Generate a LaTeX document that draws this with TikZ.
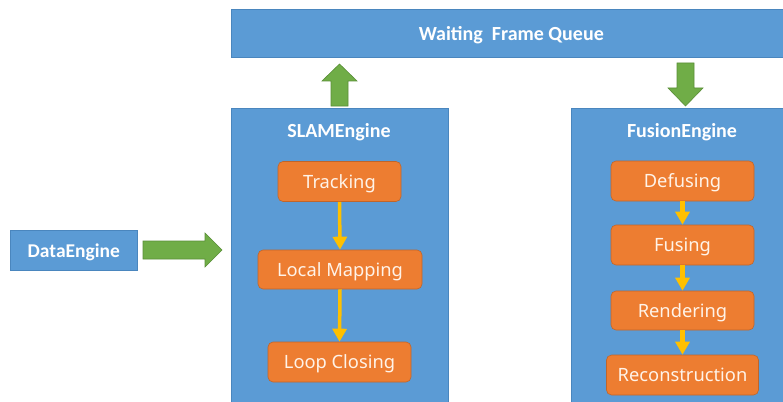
\documentclass[tikz,border=0pt]{standalone}
\usepackage{fontspec}
\setmainfont{Carlito}
\newfontfamily\labelfont{Noto Sans}
\usetikzlibrary{arrows.meta}
\definecolor{boxblue}{HTML}{5B9BD5}
\definecolor{boxblueline}{HTML}{4A86BE}
\definecolor{steporange}{HTML}{ED7D31}
\definecolor{steporangeline}{HTML}{C0652A}
\definecolor{bigarrow}{HTML}{70AD47}
\definecolor{bigarrowline}{HTML}{5A8F38}
\definecolor{flowyellow}{HTML}{FFC000}
\definecolor{labelwhite}{HTML}{FFF3E8}
\tikzset{
  bluebox/.style={draw=boxblueline, line width=0.6pt, fill=boxblue, rectangle, inner sep=0pt},
  titletext/.style={text=white, font=\fontsize{20}{24}\selectfont\bfseries,
    text height=11.6pt, text depth=0pt},
  stepbox/.style={draw=steporangeline, line width=0.6pt, fill=steporange, rectangle,
    rounded corners=5pt, inner sep=0pt, text=labelwhite,
    font=\labelfont\fontsize{18.3}{22}\selectfont, text height=13pt, text depth=0pt},
  blockarrow/.style={draw=bigarrowline, line width=0.6pt, fill=bigarrow},
  flowarrow/.style={draw=flowyellow, -{Triangle[width=14pt,length=13pt]}}
}
\begin{document}
\begin{tikzpicture}[x=1pt,y=-1pt]
\useasboundingbox (0,0) rectangle (783,401);
\fill[white] (0,0) rectangle (783,401);

% queue bar across the top
\node[bluebox, minimum width=560pt, minimum height=48pt, anchor=north west,
  titletext, text height=14pt] (queue) at (231,9) {Waiting\ \ Frame Queue};

% engine panels
\node[bluebox, minimum width=217pt, minimum height=310pt, anchor=north west] (slam) at (231,108) {};
\node[titletext] (slamtitle) at (339,132) {SLAMEngine};
\node[bluebox, minimum width=230pt, minimum height=310pt, anchor=north west] (fusion) at (571,108) {};
\node[titletext] (fusiontitle) at (682,132) {FusionEngine};

% data source
\node[bluebox, minimum width=127pt, minimum height=40pt, anchor=north west,
  text=white, font=\fontsize{19.5}{23}\selectfont\bfseries,
  text height=13.4pt, text depth=0pt] (data) at (10,230) {DataEngine};

% SLAM steps
\node[stepbox, minimum width=123pt, minimum height=40pt] (track) at (339.5,181.5) {Tracking};
\node[stepbox, minimum width=164pt, minimum height=39pt] (localmap) at (340,269.5) {Local Mapping};
\node[stepbox, minimum width=143pt, minimum height=40pt] (loop) at (339.5,362) {Loop Closing};

% Fusion steps
\node[stepbox, minimum width=143pt, minimum height=40pt] (defuse) at (682.5,181) {Defusing};
\node[stepbox, minimum width=143pt, minimum height=40pt] (fuse) at (682.5,245) {Fusing};
\node[stepbox, minimum width=143pt, minimum height=39pt] (render) at (682.5,310.5) {Rendering};
\node[stepbox, minimum width=152pt, minimum height=40pt] (recon) at (682.5,375) {Reconstruction};

% step flow
\draw[flowarrow, line width=3.5pt] (track.south) -- (localmap.north);
\draw[flowarrow, line width=3.5pt] (localmap.south) -- (loop.north);
\draw[flowarrow, line width=5.5pt] (defuse.south) -- (fuse.north);
\draw[flowarrow, line width=5.5pt] (fuse.south) -- (render.north);
\draw[flowarrow, line width=5.5pt] (render.south) -- (recon.north);

% block arrows between the panels and the queue
\draw[blockarrow] (331,106) -- (331,81) -- (322,81) -- (339.5,64) -- (357,81) -- (348,81) -- (348,106) -- cycle;
\draw[blockarrow] (677,63) -- (694,63) -- (694,88) -- (703,88) -- (685.5,106) -- (668,88) -- (677,88) -- cycle;
\draw[blockarrow] (143,241) -- (205,241) -- (205,233) -- (222,250) -- (205,267) -- (205,259) -- (143,259) -- cycle;
\end{tikzpicture}
\end{document}
